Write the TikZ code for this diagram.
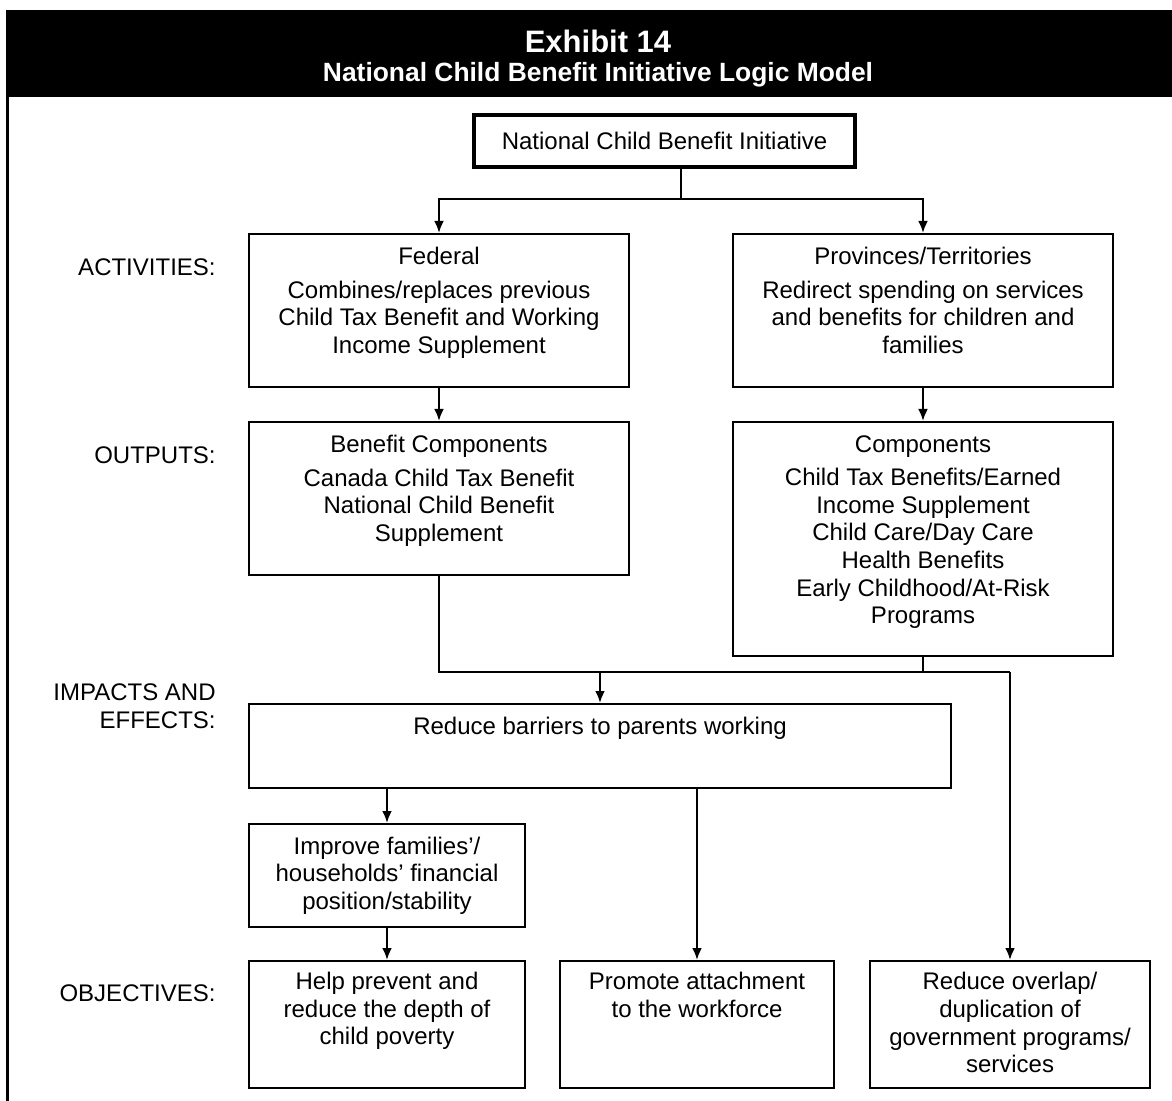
\documentclass[tikz,border=0pt]{standalone}
\usepackage{fontspec}
\setmainfont{Liberation Sans}
\usetikzlibrary{arrows.meta}
\tikzset{>={Latex[length=6pt,width=5pt]}}
\tikzset{
  stage/.style = {
    draw,
    line width=1pt,
    anchor=north west,
    inner sep=0pt,
    align=center,
    font=\fontsize{12}{13.8}\selectfont
  },
  stagetext/.style = {anchor=north, align=center, inner sep=0pt, font=\fontsize{12}{13.8}\selectfont},
  tag/.style = {anchor=east, align=right, inner sep=0pt, font=\fontsize{12}{13.8}\selectfont},
  flow/.style = {line width=1.2pt}
}

\begin{document}
\begin{tikzpicture}[x=0.5pt,y=-0.5pt]
    \useasboundingbox (0,0) rectangle (1172,1101);
    % heading bar and frame
    \fill (5.5,10) rectangle (1172,97);
    \draw[line width=1.5pt] (7,97) -- (7,1101);
    \node[text=white, font=\bfseries\fontsize{15.5}{18}\selectfont] (exhibit) at (598,41) {Exhibit 14};
    \node[text=white, font=\bfseries\fontsize{13.2}{16}\selectfont] (heading) at (598,75) {National Child Benefit Initiative Logic Model};

    % row labels
    \node[tag] (activities) at (216,267) {ACTIVITIES:};
    \node[tag] (outputs) at (216,455) {OUTPUTS:};
    \node[tag] (impacts) at (216,706) {IMPACTS AND\\EFFECTS:};
    \node[tag] (objectives) at (216,993) {OBJECTIVES:};

    % boxes
    \node[stage, line width=2pt, minimum width=190.5pt, minimum height=26pt] (initiative) at (472,113) {National Child Benefit Initiative};
    \node[stage, minimum width=190pt, minimum height=76.5pt] (federal) at (248,233) {};
    \node[stage, minimum width=190pt, minimum height=76.5pt] (provinces) at (732,233) {};
    \node[stage, minimum width=190pt, minimum height=76.5pt] (benefit) at (248,421) {};
    \node[stage, minimum width=190pt, minimum height=117pt] (components) at (732,421) {};
    \node[stage, minimum width=351pt, minimum height=42pt] (reduce) at (248,703) {};
    \node[stage, minimum width=138pt, minimum height=51.5pt] (improve) at (248,823) {Improve families’/\\households’ financial\\position/stability};
    \node[stage, minimum width=138pt, minimum height=63.5pt] (poverty) at (248,960) {};
    \node[stage, minimum width=137pt, minimum height=63.5pt] (attach) at (559,960) {};
    \node[stage, minimum width=140pt, minimum height=63.5pt] (overlap) at (869,960) {};

    % texts set at the top of the boxes
    \node[stagetext] (federaltext) at ([yshift=-7pt]federal.north) {Federal\\[3pt]Combines/replaces previous\\Child Tax Benefit and Working\\Income Supplement};
    \node[stagetext] (provincestext) at ([yshift=-7pt]provinces.north) {Provinces/Territories\\[3pt]Redirect spending on services\\and benefits for children and\\families};
    \node[stagetext] (benefittext) at ([yshift=-7pt]benefit.north) {Benefit Components\\[3pt]Canada Child Tax Benefit\\National Child Benefit\\Supplement};
    \node[stagetext] (componentstext) at ([yshift=-7pt]components.north) {Components\\[3pt]Child Tax Benefits/Earned\\Income Supplement\\Child Care/Day Care\\Health Benefits\\Early Childhood/At-Risk\\Programs};
    \node[stagetext] (reducetext) at ([yshift=-7pt]reduce.north) {Reduce barriers to parents working};
    \node[stagetext] (povertytext) at ([yshift=-6pt]poverty.north) {Help prevent and\\reduce the depth of\\child poverty};
    \node[stagetext] (attachtext) at ([yshift=-6pt]attach.north) {Promote attachment\\to the workforce};
    \node[stagetext] (overlaptext) at ([yshift=-6pt]overlap.north) {Reduce overlap/\\duplication of\\government programs/\\services};

    % connectors
    \coordinate (split) at (681,199);
    \coordinate (join) at (598,672);
    \draw[flow] (initiative.south -| split) -- (split);
    \draw[flow,->] (split) -| (federal.north);
    \draw[flow,->] (split) -| (provinces.north);
    \draw[flow,->] (federal.south) -- (benefit.north);
    \draw[flow,->] (provinces.south) -- (components.north);
    \draw[flow] (benefit.south) |- (overlap.north |- join);
    \draw[flow] (components.south) -- (components.south |- join);
    \draw[flow,->] (reduce.north |- join) -- (reduce.north);
    \draw[flow,->] (overlap.north |- join) -- (overlap.north);
    \draw[flow,->] (improve.north |- reduce.south) -- (improve.north);
    \draw[flow,->] (attach.north |- reduce.south) -- (attach.north);
    \draw[flow,->] (improve.south) -- (poverty.north);
\end{tikzpicture}
\end{document}
